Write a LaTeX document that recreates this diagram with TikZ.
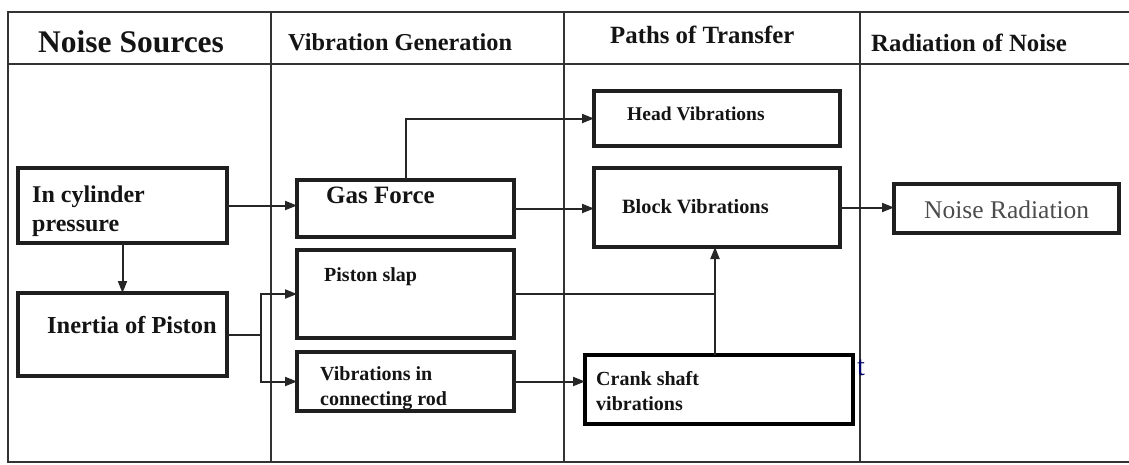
\documentclass[tikz,border=0pt]{standalone}
\usepackage{fontspec}
\setmainfont{Liberation Serif}
\usetikzlibrary{arrows.meta}
\begin{document}
\begin{tikzpicture}[x=1pt,y=-1pt,
  frame/.style={draw=black!80, line width=1.9pt},
  box/.style={draw=black!88, line width=3.5pt, inner sep=0pt, outer sep=0pt, anchor=north west},
  heavybox/.style={draw=black, line width=4.5pt, inner sep=0pt, outer sep=0pt, anchor=north west},
  conn/.style={draw=black!85, line width=2pt},
  arr/.style={conn, -{Triangle[length=12pt,width=9pt]}},
  txt/.style={inner sep=0pt, anchor=base west, text=black!92, font=\fontsize{20}{24}\selectfont\bfseries},
  bigtxt/.style={txt, font=\fontsize{24}{28}\selectfont\bfseries},
  hdr/.style={txt, font=\fontsize{24.3}{28}\selectfont\bfseries},
]
\useasboundingbox (0,0) rectangle (1129,464);
% table frame
\draw[frame] (1129,12) -- (8,12) -- (8,462) -- (1129,462);
\draw[frame] (8,64) -- (1129,64);
\draw[frame] (271,12) -- (271,462);
\draw[frame] (564,12) -- (564,462);
\draw[frame] (860,12) -- (860,462);
% headers
\node[txt, font=\fontsize{31.5}{36}\selectfont\bfseries] (h1) at (38,52) {Noise Sources};
\node[hdr] (h2) at (288,50) {Vibration Generation};
\node[hdr, font=\fontsize{24.8}{28}\selectfont\bfseries] (h3) at (610,43) {Paths of Transfer};
\node[hdr, font=\fontsize{24.8}{28}\selectfont\bfseries] (h4) at (871,51) {Radiation of Noise};
% boxes
\node[box, minimum width=209, minimum height=75] (cyl) at (18,168) {};
\node[box, minimum width=209, minimum height=83] (inertia) at (18,293) {};
\node[box, minimum width=217, minimum height=57] (gas) at (297,180) {};
\node[box, minimum width=217, minimum height=88] (slap) at (297,250) {};
\node[box, minimum width=217, minimum height=59] (rod) at (297,352) {};
\node[box, minimum width=246, minimum height=55] (head) at (594,91) {};
\node[box, minimum width=246, minimum height=79] (block) at (594,168) {};
\node[heavybox, minimum width=268, minimum height=69] (crank) at (585,355) {};
\node[box, minimum width=225, minimum height=49] (noise) at (894,184) {};
% texts
\node[bigtxt] (t1a) at (32,202) {In cylinder};
\node[bigtxt] (t1b) at (32,231) {pressure};
\node[bigtxt, font=\fontsize{24.4}{28}\selectfont\bfseries] (t2) at (47,333) {Inertia of Piston};
\node[bigtxt, font=\fontsize{25}{28}\selectfont\bfseries] (t3) at (326,203) {Gas Force};
\node[txt] (t4) at (324,281) {Piston slap};
\node[txt] (t5a) at (320,380) {Vibrations in};
\node[txt] (t5b) at (320,405) {connecting rod};
\node[txt, font=\fontsize{19.5}{24}\selectfont\bfseries] (t6) at (627,120) {Head Vibrations};
\node[txt, font=\fontsize{20.3}{24}\selectfont\bfseries] (t7) at (622,213) {Block Vibrations};
\node[txt] (t8a) at (596,385) {Crank shaft};
\node[txt] (t8b) at (596,410) {vibrations};
\node[inner sep=0pt, anchor=base west, text=black!70, font=\fontsize{25.5}{30}\selectfont] (t9) at (924,218) {Noise Radiation};
\node[inner sep=0pt, anchor=base west, text=blue!40!black, font=\fontsize{28}{30}\selectfont] (stray) at (857,375) {t};
% connectors
\draw[arr] (cyl.east) -- (cyl.east -| gas.west);
\draw[arr] (cyl.south) -- (inertia.north);
\coordinate (fork) at (261,334.5);
\draw[conn] (inertia.east) -- (fork);
\draw[arr] (fork) |- (slap.west);
\draw[arr] (fork) |- (rod.west);
\draw[arr] (gas.east) -- (gas.east -| block.west);
\draw[arr] (gas.north) |- (head.west);
\draw[arr] (block.east) -- (block.east -| noise.west);
\draw[arr] (rod.east) -- (rod.east -| crank.west);
\coordinate (join) at (715,294);
\draw[conn] (slap.east) -- (slap.east -| join);
\draw[arr] (crank.north -| join) -- (block.south -| join);
\end{tikzpicture}
\end{document}
